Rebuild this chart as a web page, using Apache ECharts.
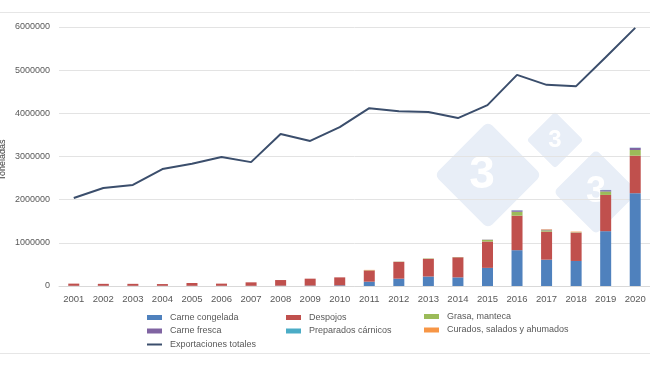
<!DOCTYPE html>
<html><head><meta charset="utf-8">
<script src="https://cdn.jsdelivr.net/npm/echarts@6/dist/echarts.min.js"></script>
<style>html,body{margin:0;padding:0;background:#fff}#c{width:650px;height:366px}</style>
</head><body><div id="c"></div>
<script>
var years = ['2001','2002','2003','2004','2005','2006','2007','2008','2009','2010','2011','2012','2013','2014','2015','2016','2017','2018','2019','2020'];
var yTicks = [0,1000000,2000000,3000000,4000000,5000000,6000000];
var carneCongelada = [5000,5000,5000,5000,5000,5000,5000,8000,10000,15000,100000,170000,220000,200000,420000,830000,610000,580000,1270000,2150000];
var despojos = [50000,45000,45000,40000,65000,50000,80000,130000,160000,185000,260000,390000,410000,465000,610000,800000,650000,650000,840000,870000];
var grasaManteca = [0,0,0,0,0,0,0,0,0,0,5000,5000,8000,5000,40000,90000,30000,10000,80000,130000];
var carneFresca = [0,0,0,0,0,0,0,0,0,0,0,0,0,0,5000,30000,15000,5000,30000,50000];
var preparados = [0,0,0,0,0,0,0,0,0,0,0,0,0,0,0,5000,0,0,5000,5000];
var curados = [0,0,0,0,0,0,0,0,0,0,8000,0,0,0,0,0,10000,15000,0,0];
var exportacionesTotales = [2040000,2270000,2340000,2710000,2830000,2990000,2870000,3520000,3360000,3680000,4120000,4050000,4030000,3890000,4190000,4890000,4660000,4630000,5300000,5980000];

var chart = echarts.init(document.getElementById('c'), null, {renderer:'canvas'});
var txt = '#595959';
var font = 'Liberation Sans, Arial, sans-serif';
function bar(name, data, color){
  return {name:name, type:'bar', stack:'t', data:data, barWidth:11, itemStyle:{color:color}, z:3};
}
function diamond(cx, cy, side, label, fs, tx){
  return {type:'group', x:cx, y:cy, z:1, children:[
    {type:'rect', rotation:Math.PI/4, shape:{x:-side/2,y:-side/2,width:side,height:side,r:side*0.08}, style:{fill:'#E8EEF7'}},
    {type:'text', style:{text:label, x:tx, y:0, align:'center', verticalAlign:'middle', fill:'#ffffff', font:'bold '+fs+'px Liberation Sans, Arial'}}
  ]};
}
var legText = {color:txt, fontSize:9, fontFamily:font, padding:[0,0,0,3]};
function leg(left, top, data){
  return {left:left, top:top, orient:'vertical', padding:0, itemGap:4.5, itemWidth:15, itemHeight:5, textStyle:legText, icon:'rect', data:data};
}
chart.setOption({
  animation:false,
  textStyle:{fontFamily:font},
  grid:{left:59, top:27, width:594, height:259},
  xAxis:{type:'category', data:years, axisTick:{show:false}, axisLine:{lineStyle:{color:'#D9D9D9'}},
    axisLabel:{color:txt, fontSize:9.5, margin:8, fontFamily:font}},
  yAxis:{type:'value', min:yTicks[0], max:yTicks[yTicks.length-1], interval:1000000,
    axisLabel:{color:txt, fontSize:9, margin:9, fontFamily:font, formatter:function(v){return String(v);}}, axisLine:{show:false}, axisTick:{show:false},
    splitLine:{lineStyle:{color:'#E3E3E3'}}},
  legend:[
    leg(147, 313, [{name:'Carne congelada'},{name:'Carne fresca'},{name:'Exportaciones totales', icon:'path://M0,0 L15,0 L15,2 L0,2 Z'}]),
    leg(286, 313, ['Despojos','Preparados cárnicos']),
    leg(424, 312, ['Grasa, manteca','Curados, salados y ahumados'])
  ],
  graphic:[
    {type:'line', shape:{x1:0,y1:12.5,x2:650,y2:12.5}, style:{stroke:'#E6E6E6', lineWidth:1}},
    {type:'line', shape:{x1:0,y1:353.5,x2:650,y2:353.5}, style:{stroke:'#E6E6E6', lineWidth:1}},
    {type:'text', x:3, y:160, rotation:Math.PI/2, style:{text:'Toneladas', align:'center', verticalAlign:'middle', fill:'#404040', font:'9px Liberation Sans, Arial'}},
    diamond(488,175,76,'3',46,-6),
    diamond(555,140,40,'3',24,0),
    diamond(596,192,60,'3',36,0)
  ],
  series:[
    bar('Carne congelada', carneCongelada, '#4F81BD'),
    bar('Despojos', despojos, '#C0504D'),
    bar('Grasa, manteca', grasaManteca, '#9BBB59'),
    bar('Carne fresca', carneFresca, '#8064A2'),
    bar('Preparados cárnicos', preparados, '#4BACC6'),
    bar('Curados, salados y ahumados', curados, '#F79646'),
    {name:'Exportaciones totales', type:'line', data:exportacionesTotales, symbol:'none', z:5,
      lineStyle:{color:'#3B4E6C', width:2}, itemStyle:{color:'#3B4E6C'}}
  ]
});
</script></body></html>
